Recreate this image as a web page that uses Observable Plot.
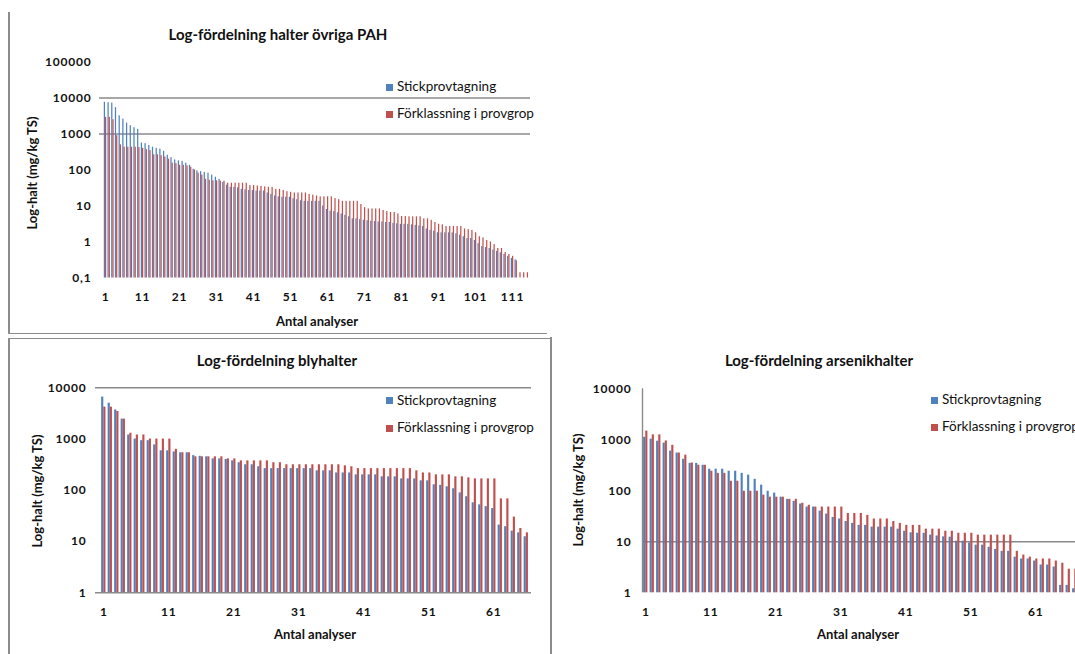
<!DOCTYPE html>
<html><head><meta charset="utf-8">
<script src="https://cdn.jsdelivr.net/npm/d3@7"></script>
<script src="https://cdn.jsdelivr.net/npm/@observablehq/plot@0.6"></script>
<style>
html,body{margin:0;padding:0;background:#fff;}
#page{position:relative;width:1075px;height:654px;overflow:hidden;font-family:Lato,"Open Sans",sans-serif;color:#111;}
.abs{position:absolute;white-space:nowrap;line-height:1;}
svg{max-width:none !important;}
svg text{font-weight:bold;letter-spacing:0.8px;}
.title{font-weight:bold;font-size:15px;transform:translate(-50%,-50%);}
.xlab{font-weight:bold;font-size:13px;transform:translate(-50%,-50%);}
.ylab{font-weight:bold;font-size:13px;transform:translate(-50%,-50%) rotate(-90deg);}
.leg{font-size:13.5px;transform:translateY(-50%);}
.sq{width:7px;height:7px;}
.line{position:absolute;background:#8c8c8c;}
</style>
</head><body>
<div id="page"></div>
<script>
// ---------- data ----------
const seriesNames = ["Stickprovtagning", "Förklassning i provgrop"];
const seriesColors = ["#4F81BD", "#C0504D"];

const pahTitle = "Log-fördelning halter övriga PAH";
const blyTitle = "Log-fördelning blyhalter";
const arsTitle = "Log-fördelning arsenikhalter";
const yTitle = "Log-halt (mg/kg TS)";
const xTitle = "Antal analyser";

const pahBlue = [7600,7400,7200,5400,3200,2600,2000,1700,1500,1350,
  560,540,480,430,400,380,330,257,220,190,
  180,174,155,135,105,95,90,85,82,72,
  63,55,45,38,33,33,32,29,28,27,
  27,26,26,26,23,21,19,18,17.5,17.5,
  17.5,16,15,14,13.5,13.5,13.5,13.5,13.5,10,
  8,7.2,7,6.5,6,5.5,5,4.4,4.4,4.2,
  4.0,3.9,3.8,3.7,3.6,3.6,3.5,3.5,3.3,3.2,
  3.1,3.1,3.1,3.0,2.9,2.8,2.7,2.3,2.1,2.0,
  1.8,1.8,1.8,1.8,1.8,1.7,1.55,1.4,1.25,1.25,
  1.1,0.9,0.75,0.7,0.66,0.6,0.55,0.5,0.45,0.4,
  0.35,0.32,null,null,null];
const pahRed = [2900,2900,2500,900,500,430,430,430,430,420,
  400,370,345,265,265,250,230,200,155,150,
  135,135,130,120,100,82,72,55,52,50,
  50,49,49,43,43,43,43,43,43,37,
  37,36,35,34,33,33,29,29,27,25,
  24,23,23,23,23,21,20,19,18,18,
  18,18,16,15,13.5,13.5,13.5,13.5,13.5,11,
  9,8.3,8.3,8.3,8.3,7.5,7,6.6,6.6,6.0,
  5.1,5.1,5.0,5.0,5.0,5.0,4.4,4.4,4.0,3.5,
  3.1,3.0,2.7,2.7,2.7,2.7,2.7,2.3,2.2,2.1,
  1.8,1.4,1.3,1.1,1.0,0.85,0.66,0.66,0.51,0.45,
  0.4,0.3,0.14,0.14,0.14];
const pahYTicks = [0.1,1,10,100,1000,10000,100000];
const pahXTicks = [1,11,21,31,41,51,61,71,81,91,101,111];
const pahRefLines = [1000,10000];

const blyBlue = [6600,5000,3700,2450,1200,1000,930,930,770,590,
  590,560,540,540,475,460,450,410,410,400,
  375,345,315,315,288,265,265,265,265,265,
  265,265,265,240,240,240,218,218,218,200,
  200,200,200,183,183,183,167,167,167,153,
  153,128,125,117,107,89,75,57,52,48,
  44,21,19.5,16,14.8,12.4];
const blyRed = [4200,4200,3450,2450,1300,1200,1200,1000,1000,1000,
  1000,630,540,540,450,450,450,450,450,410,
  410,375,375,375,375,375,345,345,315,315,
  315,315,315,315,315,315,315,300,288,265,
  265,265,265,265,265,265,265,265,240,218,
  218,200,200,200,183,183,175,167,167,167,
  167,68,68,30,18,14.8];
const blyYTicks = [1,10,100,1000,10000];
const blyXTicks = [1,11,21,31,41,51,61];
const blyRefLines = [10000];

const arsBlue = [1120,1030,940,860,600,550,415,345,345,317,
  265,265,265,242,242,220,203,168,129,98,
  90,75,68,62,55,48,48,40,35,30,
  28,25,23,21,21,19.4,19.4,19.4,19.4,17.7,
  16.1,15,14.7,14.7,13.5,13,12.5,12.3,10.3,10.3,
  9.5,8.6,8.6,7.8,7.1,6.5,6.5,5.0,4.6,4.6,
  4.2,3.5,3.5,3.2,1.4,1.4,1.2];
const arsRed = [1480,1250,1250,950,780,550,500,350,317,317,
  242,220,220,154,154,98,98,98,82,75,
  75,75,68,68,57,52,48,48,48,48,
  48,36,36,36,33,28,28,28,25,23,
  21,21,21,17.7,17.7,17.7,16.1,16.1,14.7,14.7,
  14.7,13.5,13.5,13.5,13.5,13.5,13.5,6.5,5.5,5.0,
  4.6,4.6,4.6,4.2,3.8,2.9,2.9];
const arsYTicks = [1,10,100,1000,10000];
const arsXTicks = [1,11,21,31,41,51,61];
const arsRefLines = [10];

// ---------- helpers ----------
const page = document.getElementById("page");
function div(cls, text, left, top, extra) {
  const d = document.createElement("div");
  d.className = "abs " + cls;
  if (text != null) d.textContent = text;
  d.style.left = left + "px"; d.style.top = top + "px";
  if (extra) Object.assign(d.style, extra);
  page.appendChild(d);
  return d;
}
function line(left, top, w, h) {
  const d = document.createElement("div");
  d.className = "line";
  Object.assign(d.style, {left: left + "px", top: top + "px", width: w + "px", height: h + "px"});
  page.appendChild(d);
}
function rows(values) {
  return values.map((v, k) => ({i: k + 1, v})).filter(d => d.v != null);
}
const fmt = d => d < 1 ? String(d).replace(".", ",") : String(d);

function panel(o) {
  const n = Math.max(o.blue.length, o.red.length);
  const w = 0.33;
  const y0 = o.yTicks[0];
  const marks = [
    Plot.ruleY(o.refLines, {stroke: "#8a8a8a", strokeWidth: 1.6}),
    Plot.rectY(rows(o.blue), {x1: d => d.i - w, x2: d => d.i, y1: y0, y2: "v", fill: seriesColors[0]}),
    Plot.rectY(rows(o.red), {x1: d => d.i, x2: d => d.i + w, y1: y0, y2: "v", fill: seriesColors[1]})
  ];
  if (o.bottomLine) marks.push(Plot.ruleY([y0], {stroke: "#8a8a8a", strokeWidth: 1.4}));
  if (o.yAxisLine) marks.push(Plot.ruleX([0.5], {stroke: "#8a8a8a", strokeWidth: 1.4}));
  const chart = Plot.plot({
    width: o.width, height: o.height,
    marginTop: o.mt, marginBottom: o.mb, marginLeft: o.ml, marginRight: o.mr,
    style: {fontFamily: "Lato, 'Open Sans', sans-serif", fontSize: "12px", color: "#111", background: "transparent", overflow: "visible"},
    x: {type: "linear", domain: [0.5, n + 0.5], range: o.xRange, ticks: o.xTicks, tickSize: 0, tickPadding: o.xPad, tickFormat: d => String(d), label: null},
    y: {type: "log", domain: [y0, o.yTicks[o.yTicks.length - 1]], ticks: o.yTicks, tickSize: 0, tickPadding: o.yPad, tickFormat: fmt, label: null},
    marks
  });
  chart.style.position = "absolute";
  chart.style.left = o.left + "px";
  chart.style.top = o.top + "px";
  page.appendChild(chart);
}

// ---------- panel 1: PAH ----------
line(8, 12, 1.5, 321);
line(8, 332.5, 539, 1.5);
panel({blue: pahBlue, red: pahRed, yTicks: pahYTicks, xTicks: pahXTicks, refLines: pahRefLines,
  left: 0, top: 0, width: 560, height: 340, mt: 61.5, mb: 62.5, ml: 99, mr: 30,
  xRange: [103.15, 528.65], xPad: 14, yPad: 8});
div("title", pahTitle, 278, 34);
div("ylab", yTitle, 32, 173);
div("xlab", xTitle, 317, 321);
div("sq", null, 386, 83.5, {background: seriesColors[0]});
div("leg", seriesNames[0], 397, 87);
div("sq", null, 386, 110.5, {background: seriesColors[1]});
div("leg", seriesNames[1], 397, 114);

// ---------- panel 2: bly ----------
line(8, 337.5, 543, 1.5);
line(8, 337.5, 1.5, 317);
line(550, 336.5, 1.5, 318);
panel({blue: blyBlue, red: blyRed, yTicks: blyYTicks, xTicks: blyXTicks, refLines: blyRefLines, bottomLine: true,
  left: 0, top: 335, width: 560, height: 319, mt: 52.3, mb: 61.7, ml: 95, mr: 29,
  xRange: [100.05, 529.05], xPad: 15, yPad: 9});
div("title", blyTitle, 277, 360);
div("ylab", yTitle, 37, 491);
div("xlab", xTitle, 315, 634);
div("sq", null, 386, 397, {background: seriesColors[0]});
div("leg", seriesNames[0], 397, 400.5);
div("sq", null, 386, 424.5, {background: seriesColors[1]});
div("leg", seriesNames[1], 397, 428);

// ---------- panel 3: arsenik ----------
panel({blue: arsBlue, red: arsRed, yTicks: arsYTicks, xTicks: arsXTicks, refLines: arsRefLines, yAxisLine: true,
  left: 560, top: 335, width: 530, height: 319, mt: 53.3, mb: 61.7, ml: 82, mr: 0,
  xRange: [82, 517.5], xPad: 15, yPad: 11});
div("title", arsTitle, 819, 360);
div("ylab", yTitle, 578, 490);
div("xlab", xTitle, 858, 634);
div("sq", null, 931, 396.5, {background: seriesColors[0]});
div("leg", seriesNames[0], 942, 400);
div("sq", null, 931, 423.5, {background: seriesColors[1]});
div("leg", seriesNames[1], 942, 427);
</script>
</body></html>
